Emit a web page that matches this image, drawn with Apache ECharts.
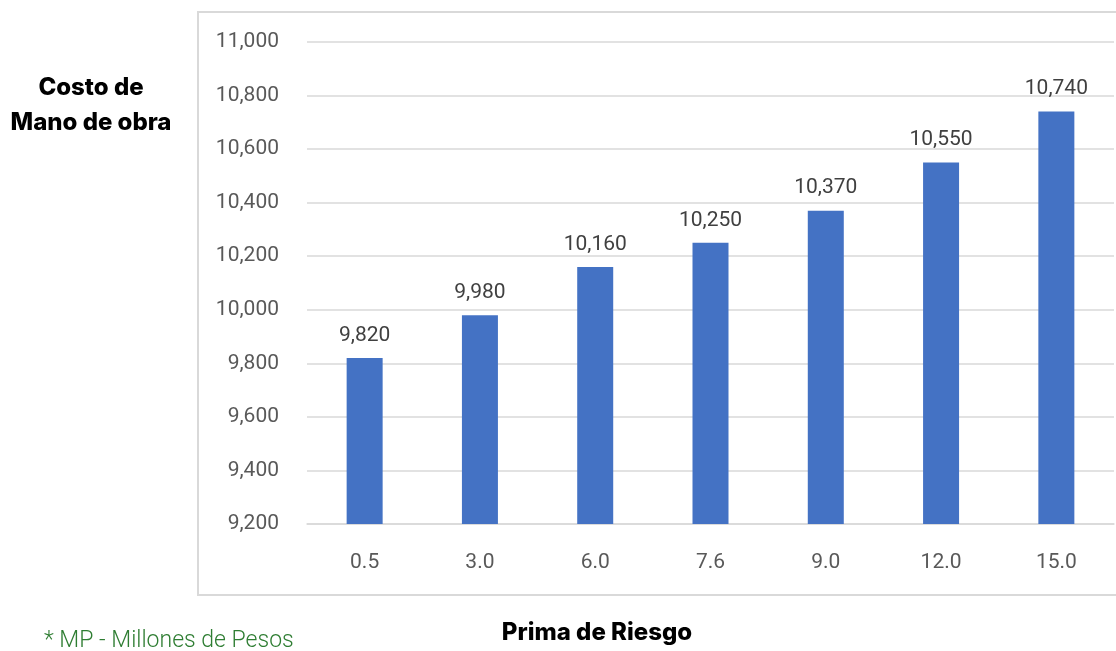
<!DOCTYPE html>
<html>
<head>
<meta charset="utf-8">
<script src="https://cdn.jsdelivr.net/npm/echarts@6/dist/echarts.min.js"></script>
<style>
html,body{margin:0;padding:0;background:#fff;}
#c{width:1116px;height:651px;}
</style>
</head>
<body>
<div id="c"></div>
<script>
const categories = ['0.5', '3.0', '6.0', '7.6', '9.0', '12.0', '15.0'];
const costValues = [9820, 9980, 10160, 10250, 10370, 10550, 10740];
const yMin = 9200, yMax = 11000, yStep = 200;
const yTitleLines = ['Costo de', 'Mano de obra'];
const xTitle = 'Prima de Riesgo';
const footnote = '* MP - Millones de Pesos';

const fmt = v => v.toLocaleString('en-US');
const numFont = 'Roboto';
const chart = echarts.init(document.getElementById('c'));
chart.setOption({
  animation: false,
  backgroundColor: '#fff',
  grid: { left: 307, right: 2, top: 42, bottom: 127 },
  xAxis: {
    type: 'category',
    data: categories,
    axisLine: { show: true, lineStyle: { color: '#d9d9d9', width: 1.5 } },
    axisTick: { show: false },
    axisLabel: { color: '#595959', fontFamily: numFont, fontSize: 21, margin: 28 }
  },
  yAxis: {
    type: 'value',
    min: yMin, max: yMax, interval: yStep,
    axisLine: { show: false },
    axisTick: { show: false },
    splitLine: { lineStyle: { color: '#d9d9d9', width: 1.5 } },
    axisLabel: { color: '#595959', fontFamily: numFont, fontSize: 21, margin: 28, formatter: fmt }
  },
  series: [{
    type: 'bar',
    data: costValues,
    barWidth: 36,
    itemStyle: { color: '#4472C4' },
    label: {
      show: true, position: 'top', distance: 12,
      color: '#404040', fontFamily: numFont, fontSize: 21,
      formatter: p => fmt(p.value)
    }
  }],
  graphic: [
    { type: 'rect', shape: { x: 198, y: 12, width: 930, height: 583 }, style: { fill: 'none', stroke: '#d9d9d9', lineWidth: 2 }, silent: true, z: -1 },
    { type: 'text', x: 91, y: 88, style: { text: yTitleLines[0], font: '800 24px Inter', fill: '#000', align: 'center', verticalAlign: 'middle' } },
    { type: 'text', x: 91, y: 123, style: { text: yTitleLines[1], font: '800 24px Inter', fill: '#000', align: 'center', verticalAlign: 'middle' } },
    { type: 'text', x: 597, y: 633, style: { text: xTitle, font: '800 24px Inter', fill: '#000', align: 'center', verticalAlign: 'middle' } },
    { type: 'text', x: 44, y: 641, style: { text: footnote, font: '300 23px Roboto', fill: '#2E7D32', align: 'left', verticalAlign: 'middle' } }
  ]
});
</script>
</body>
</html>
